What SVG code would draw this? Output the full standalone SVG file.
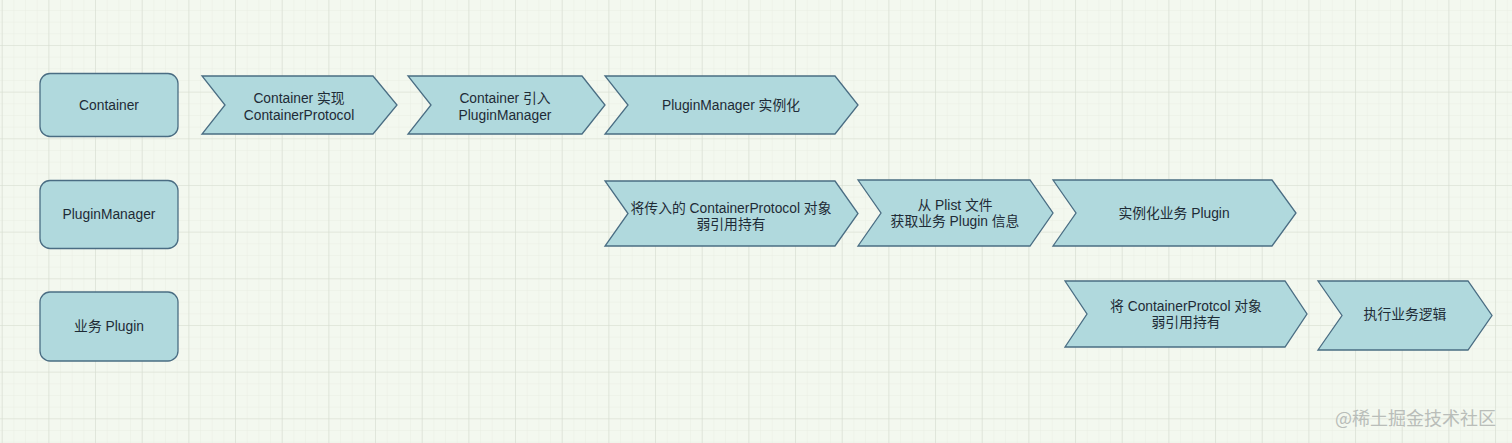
<svg xmlns="http://www.w3.org/2000/svg" width="1512" height="443" viewBox="0 0 1512 443">
<style>
.n{fill:#b0d9dd;stroke:#4a6d83;stroke-width:1.3}
.t{font-family:"Liberation Sans","Noto Sans CJK SC",sans-serif;font-size:13.8px;fill:#1e2b36;text-anchor:middle}
.wm{font-family:"Noto Sans CJK SC",sans-serif;font-size:18px;fill:#b9bdb9}
</style>
<defs>
<pattern id="minor" width="11.667" height="11.667" patternUnits="userSpaceOnUse" patternTransform="translate(1.7,-1.7)">
<path d="M0 0H11.667M0 0V11.667" fill="none" stroke="#e9eee4" stroke-width="1"/>
</pattern>
<pattern id="major" width="46.667" height="46.667" patternUnits="userSpaceOnUse" patternTransform="translate(1.7,-1.7)">
<path d="M0 0H46.667M0 0V46.667" fill="none" stroke="#d6ddd0" stroke-width="1.2"/>
</pattern>
</defs>
<rect width="1512" height="443" fill="#f3f8ef"/>
<rect width="1512" height="443" fill="url(#minor)"/>
<rect width="1512" height="443" fill="url(#major)"/>
<g id="connectors"/>
<g id="lane-container"><rect class="n" x="40" y="73.5" width="138" height="63" rx="10"/><text class="t" x="109" y="110">Container</text></g>
<g id="lane-pluginmanager"><rect class="n" x="40" y="180.5" width="138" height="68" rx="10"/><text class="t" x="109" y="219">PluginManager</text></g>
<g id="lane-plugin"><rect class="n" x="40" y="292" width="138" height="69" rx="10"/><text class="t" x="109" y="331">业务 Plugin</text></g>
<g id="s1"><path class="n" d="M202 76H373L397 105L373 134H202L225 105Z"/><text class="t" x="299" y="103">Container 实现</text><text class="t" x="299" y="120">ContainerProtocol</text></g>
<g id="s2"><path class="n" d="M408 76H582L605 105L582 134H408L431 105Z"/><text class="t" x="505" y="103">Container 引入</text><text class="t" x="505" y="120">PluginManager</text></g>
<g id="s3"><path class="n" d="M605 76H835L858 105L835 134H605L628 105Z"/><text class="t" x="731" y="110">PluginManager 实例化</text></g>
<g id="s4"><path class="n" d="M605 181H835L858 213.5L835 246H605L628 213.5Z"/><text class="t" x="731" y="213">将传入的 ContainerProtocol 对象</text><text class="t" x="731" y="229">弱引用持有</text></g>
<g id="s5"><path class="n" d="M858 180H1030L1053 213L1030 246H858L881 213Z"/><text class="t" x="955" y="210">从 Plist 文件</text><text class="t" x="955" y="226">获取业务 Plugin 信息</text></g>
<g id="s6"><path class="n" d="M1053 180H1272L1296 213L1272 246H1053L1076 213Z"/><text class="t" x="1174" y="218">实例化业务 Plugin</text></g>
<g id="s7"><path class="n" d="M1065 281H1285L1307 314L1285 347H1065L1087 314Z"/><text class="t" x="1186" y="311">将 ContainerProtcol 对象</text><text class="t" x="1186" y="327">弱引用持有</text></g>
<g id="s8"><path class="n" d="M1318 281H1468L1492 315.5L1468 350H1318L1342 315.5Z"/><text class="t" x="1405" y="319">执行业务逻辑</text></g>
<text class="wm" x="1335" y="425">@稀土掘金技术社区</text>
</svg>
